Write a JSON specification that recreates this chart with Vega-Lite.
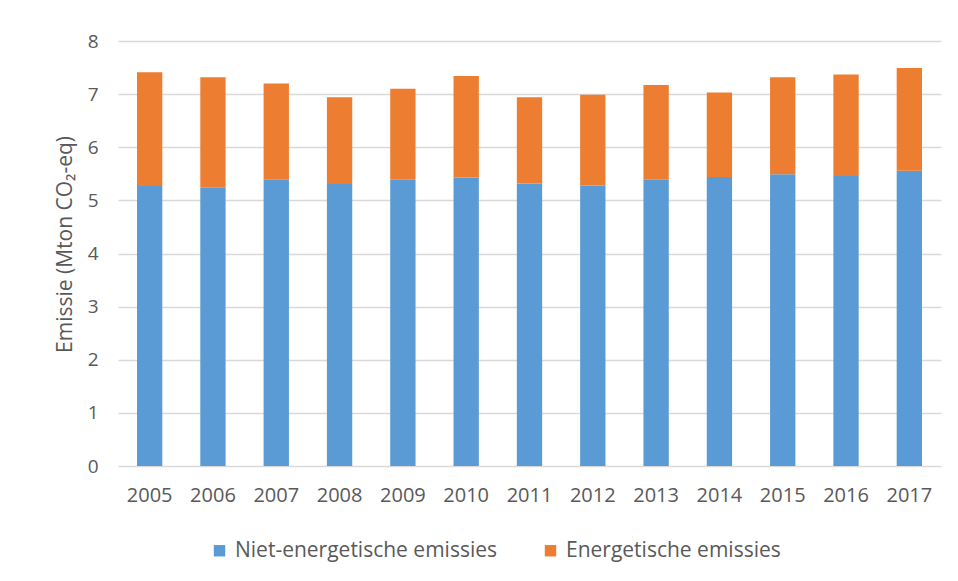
{
  "$schema": "https://vega.github.io/schema/vega-lite/v6.json",
  "width": 823,
  "height": 425,
  "autosize": {"type": "none"},
  "padding": {"left": 118, "top": 41, "right": 17, "bottom": 115},
  "background": "white",
  "config": {
    "view": {"stroke": null},
    "font": "Open Sans",
    "axis": {"labelFont": "Open Sans", "titleFont": "Open Sans", "labelColor": "#595959", "titleColor": "#595959"},
    "legend": {"labelFont": "Open Sans", "labelColor": "#595959"}
  },
  "data": {
    "values": [
      {"jaar": "2005", "reeks": "Niet-energetische emissies", "volgorde": 1, "waarde": 5.27},
      {"jaar": "2005", "reeks": "Energetische emissies", "volgorde": 2, "waarde": 2.14},
      {"jaar": "2006", "reeks": "Niet-energetische emissies", "volgorde": 1, "waarde": 5.24},
      {"jaar": "2006", "reeks": "Energetische emissies", "volgorde": 2, "waarde": 2.08},
      {"jaar": "2007", "reeks": "Niet-energetische emissies", "volgorde": 1, "waarde": 5.39},
      {"jaar": "2007", "reeks": "Energetische emissies", "volgorde": 2, "waarde": 1.81},
      {"jaar": "2008", "reeks": "Niet-energetische emissies", "volgorde": 1, "waarde": 5.31},
      {"jaar": "2008", "reeks": "Energetische emissies", "volgorde": 2, "waarde": 1.63},
      {"jaar": "2009", "reeks": "Niet-energetische emissies", "volgorde": 1, "waarde": 5.39},
      {"jaar": "2009", "reeks": "Energetische emissies", "volgorde": 2, "waarde": 1.71},
      {"jaar": "2010", "reeks": "Niet-energetische emissies", "volgorde": 1, "waarde": 5.43},
      {"jaar": "2010", "reeks": "Energetische emissies", "volgorde": 2, "waarde": 1.91},
      {"jaar": "2011", "reeks": "Niet-energetische emissies", "volgorde": 1, "waarde": 5.32},
      {"jaar": "2011", "reeks": "Energetische emissies", "volgorde": 2, "waarde": 1.62},
      {"jaar": "2012", "reeks": "Niet-energetische emissies", "volgorde": 1, "waarde": 5.28},
      {"jaar": "2012", "reeks": "Energetische emissies", "volgorde": 2, "waarde": 1.71},
      {"jaar": "2013", "reeks": "Niet-energetische emissies", "volgorde": 1, "waarde": 5.39},
      {"jaar": "2013", "reeks": "Energetische emissies", "volgorde": 2, "waarde": 1.78},
      {"jaar": "2014", "reeks": "Niet-energetische emissies", "volgorde": 1, "waarde": 5.44},
      {"jaar": "2014", "reeks": "Energetische emissies", "volgorde": 2, "waarde": 1.59},
      {"jaar": "2015", "reeks": "Niet-energetische emissies", "volgorde": 1, "waarde": 5.49},
      {"jaar": "2015", "reeks": "Energetische emissies", "volgorde": 2, "waarde": 1.83},
      {"jaar": "2016", "reeks": "Niet-energetische emissies", "volgorde": 1, "waarde": 5.46},
      {"jaar": "2016", "reeks": "Energetische emissies", "volgorde": 2, "waarde": 1.91},
      {"jaar": "2017", "reeks": "Niet-energetische emissies", "volgorde": 1, "waarde": 5.56},
      {"jaar": "2017", "reeks": "Energetische emissies", "volgorde": 2, "waarde": 1.93}
    ]
  },
  "mark": {"type": "bar"},
  "encoding": {
    "x": {
      "field": "jaar",
      "type": "ordinal",
      "scale": {"paddingInner": 0.6, "paddingOuter": 0.3},
      "axis": {
        "title": null,
        "labelAngle": 0,
        "labelFontSize": 20,
        "labelPadding": 19,
        "ticks": false,
        "domain": false
      }
    },
    "y": {
      "field": "waarde",
      "type": "quantitative",
      "stack": "zero",
      "scale": {"domain": [0, 8], "nice": false},
      "axis": {
        "title": "Emissie (Mton CO₂-eq)",
        "titleFontSize": 21,
        "titleFontWeight": "normal",
        "titlePadding": 12,
        "titleY": 203,
        "values": [0, 1, 2, 3, 4, 5, 6, 7, 8],
        "labelFontSize": 19,
        "labelPadding": 20,
        "ticks": false,
        "domain": false,
        "gridColor": "#d9d9d9",
        "gridWidth": 1.5
      }
    },
    "color": {
      "field": "reeks",
      "type": "nominal",
      "scale": {
        "domain": ["Niet-energetische emissies", "Energetische emissies"],
        "range": ["#5b9bd5", "#ed7d31"]
      },
      "legend": {
        "title": null,
        "orient": "none",
        "direction": "horizontal",
        "legendX": 91,
        "legendY": 499,
        "symbolType": "square",
        "symbolSize": 130,
        "symbolStrokeWidth": 0,
        "labelFontSize": 21,
        "labelLimit": 0,
        "labelOffset": 5,
        "columnPadding": 42
      }
    },
    "order": {"field": "volgorde", "type": "quantitative"}
  }
}
